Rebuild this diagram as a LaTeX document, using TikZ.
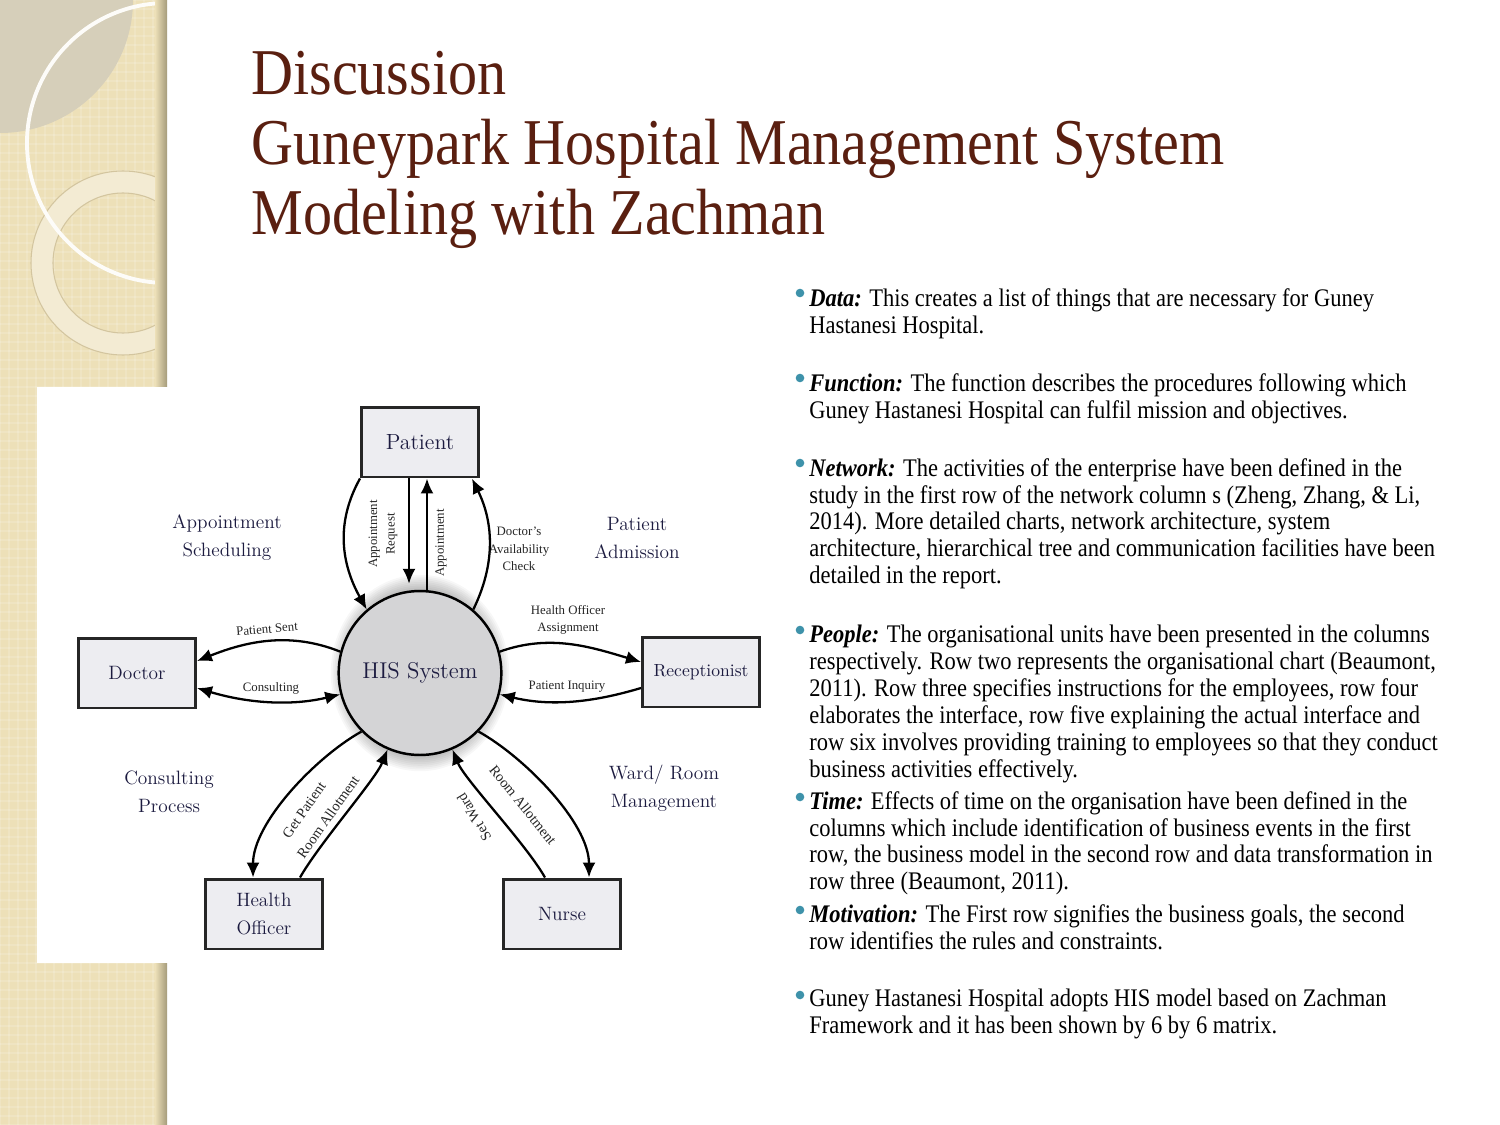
\documentclass[tikz,border=0pt]{standalone}
\usepackage{fontspec}
\usepackage{xcolor}
\usetikzlibrary{arrows.meta, shapes.geometric}
\newfontfamily\slidefont[FakeStretch=0.889]{Liberation Serif}
\newfontfamily\diagfont{Liberation Serif}
\definecolor{titlebrown}{HTML}{5A1F10}
\definecolor{bulletteal}{HTML}{3E92AA}
\definecolor{hisnavy}{HTML}{1C1B40}
\definecolor{stripbeige}{HTML}{EDE0B8}
\definecolor{stripgrey}{HTML}{D6CFBA}
\definecolor{stripshade}{HTML}{A59B7B}
\definecolor{ringcream}{HTML}{F3EBD3}
\definecolor{ringedge}{HTML}{D3C59F}
\definecolor{boxgrey}{HTML}{EDEDF1}
\definecolor{hisgrey}{HTML}{D4D4D6}

\tikzset{
  entity/.style={draw=black!85, line width=1.7pt, fill=boxgrey, minimum width=2.34cm,
    minimum height=1.4cm, inner sep=0pt, text=hisnavy, align=center,
    font=\fontsize{11}{15.5}\selectfont},
  hisblob/.style={ellipse, draw=black, line width=1.4pt, fill=hisgrey, minimum width=2.92cm,
    minimum height=3.28cm, inner sep=0pt, text=hisnavy, font=\fontsize{13}{15}\selectfont},
  flow/.style={line width=1.3pt, -{Latex[length=3mm,width=2.6mm]}},
  flowboth/.style={line width=1.3pt, {Latex[length=3mm,width=2.6mm]}-{Latex[length=3mm,width=2.6mm]}},
  flowlbl/.style={inner sep=0pt, align=center, text=black!85, font=\diagfont\fontsize{7.3}{10}\selectfont},
  slantlbl/.style={flowlbl, font=\diagfont\fontsize{8.2}{10}\selectfont},
  zonelbl/.style={inner sep=0pt, align=center, text=hisnavy, font=\fontsize{11}{16}\selectfont},
  titleline/.style={anchor=base west, inner sep=0pt, text=titlebrown,
    font=\slidefont\fontsize{37.2}{40}\selectfont},
  para/.style={anchor=north west, inner sep=0pt, align=left,
    font=\slidefont\fontsize{14.4}{15.3}\selectfont},
  bulletdot/.style={fill=bulletteal}
}

\begin{document}
\begin{tikzpicture}[x=0.02cm, y=-0.02cm]
  \useasboundingbox (0,0) rectangle (1500,1125);
  \fill[white] (0,0) rectangle (1500,1125);

  % left strip
  \fill[stripbeige] (0,0) rectangle (167,1125);
  \foreach \k in {0,...,18}
    \draw[white, opacity=0.15, line width=0.6pt] (\k*9,0) -- (\k*9,1125);
  \foreach \k in {0,...,125}
    \draw[white, opacity=0.15, line width=0.6pt] (0,\k*9) -- (160,\k*9);
  \begin{scope}
    \clip (0,0) rectangle (160,1125);
    \fill[stripgrey] (0,0) circle (133);
    \fill[ringcream, even odd rule] (123,263) circle (92) (123,263) circle (70);
    \draw[ringedge, line width=0.6pt] (123,263) circle (92) (123,263) circle (70);
    \draw[white!92!stripbeige, line width=2.2pt] (167,143) circle (140);
  \end{scope}
  \shade[left color=stripbeige, right color=stripshade] (155,0) rectangle (167,1125);

  % title
  \node[titleline] (t1) at (251,95)  {Discussion};
  \node[titleline] (t2) at (251,165) {Guneypark Hospital Management System};
  \node[titleline] (t3) at (251,235) {Modeling with Zachman};

  % diagram panel
  \fill[white] (37,387) rectangle (770,963);
  \foreach \g in {1,...,9}
    \fill[black, opacity=0.03] (420,673) ellipse ({73+1.8*\g} and {82+1.8*\g});

  \node[hisblob] (his) at (420,673) {HIS System};
  \node[entity, font=\fontsize{12.5}{15}\selectfont] (pat) at (420,442) {Patient};
  \node[entity] (doc) at (137,673) {Doctor};
  \node[entity, font=\fontsize{10}{12}\selectfont] (rec) at (701,672) {Receptionist};
  \node[entity] (ho)  at (264,914) {Health\\Officer};
  \node[entity] (nur) at (562,914) {Nurse};

  \node[zonelbl] (zsched) at (227,538) {Appointment\\Scheduling};
  \node[zonelbl] (zadm)   at (637,538) {Patient\\Admission};
  \node[zonelbl] (zcons)  at (169,792) {Consulting\\Process};
  \node[zonelbl] (zward)  at (664,788) {Ward/ Room\\Management};

  % connectors
  \draw[flow] (pat.south west) .. controls +(-25,45) and +(-25,-45) .. (his.130);
  \draw[flow] ([xshift=-0.22cm]pat.south) -- ([xshift=-0.22cm,yshift=0.12cm]his.north);
  \draw[flow] ([xshift=0.14cm]his.north) -- ([xshift=0.14cm]pat.south);
  \draw[flow] (his.50) .. controls +(22,-45) and +(22,45) .. ([xshift=-0.16cm]pat.south east);
  \draw[flow] (his.165) .. controls +(-50,-20) and +(50,-20) .. ([yshift=0.24cm]doc.east);
  \draw[flowboth] ([yshift=-0.3cm]doc.east) .. controls +(50,15) and +(-50,12) .. (his.195);
  \draw[flow] (his.15) .. controls +(50,-18) and +(-50,-15) .. ([yshift=0.2cm]rec.west);
  \draw[flow] ([yshift=-0.32cm]rec.west) .. controls +(-50,15) and +(50,12) .. (his.345);
  \draw[flow] (his.225) .. controls +(-45,25) and +(0,-55) .. ([xshift=-0.22cm]ho.north);
  \draw[flow] ([xshift=0.72cm]ho.north) .. controls +(20,-35) and +(-12,30) .. (his.247);
  \draw[flow] ([xshift=-0.34cm]nur.north) .. controls +(-20,-35) and +(12,30) .. (his.293);
  \draw[flow] (his.315) .. controls +(45,25) and +(0,-55) .. ([xshift=0.54cm]nur.north);

  \node[flowlbl, rotate=90] (lreq)  at (383,534) {Appointment\\Request};
  \node[flowlbl, rotate=90] (lapp)  at (441,543) {Appointment};
  \node[flowlbl] (lchk) at (519,549) {Doctor’s\\Availability\\Check};
  \node[flowlbl, rotate=5]  (lsent) at (267,629) {Patient Sent};
  \node[flowlbl]            (lcons) at (271,688) {Consulting};
  \node[flowlbl]            (lhoa)  at (568,620) {Health Officer\\Assignment};
  \node[flowlbl]            (linq)  at (567,687) {Patient Inquiry};
  \node[slantlbl, rotate=55] (lget)  at (304,810) {Get Patient};
  \node[slantlbl, rotate=55] (lroomh) at (328,817) {Room Allotment};
  \node[slantlbl, rotate=121] (lward) at (474,817) {Set Ward};
  \node[slantlbl, rotate=-51] (lroomn) at (523,805) {Room Allotment};

  % bullet text
  \foreach \by in {293,378,463,630,797,910,995}
    \fill[bulletdot] (800,\by) circle (4.3);
  \node[para] (pdata) at (809,288) {\textbf{\textit{Data:}} This creates a list of things that are necessary for Guney\\
    Hastanesi Hospital.};
  \node[para] (pfunc) at (809,373) {\textbf{\textit{Function:}} The function describes the procedures following which\\
    Guney Hastanesi Hospital can fulfil mission and objectives.};
  \node[para] (pnet) at (809,458) {\textbf{\textit{Network:}} The activities of the enterprise have been defined in the\\
    study in the first row of the network column s (Zheng, Zhang, \& Li,\\
    2014). More detailed charts, network architecture, system\\
    architecture, hierarchical tree and communication facilities have been\\
    detailed in the report.};
  \node[para] (ppeop) at (809,625) {\textbf{\textit{People:}} The organisational units have been presented in the columns\\
    respectively. Row two represents the organisational chart (Beaumont,\\
    2011). Row three specifies instructions for the employees, row four\\
    elaborates the interface, row five explaining the actual interface and\\
    row six involves providing training to employees so that they conduct\\
    business activities effectively.};
  \node[para] (ptime) at (809,791) {\textbf{\textit{Time:}} Effects of time on the organisation have been defined in the\\
    columns which include identification of business events in the first\\
    row, the business model in the second row and data transformation in\\
    row three (Beaumont, 2011).};
  \node[para] (pmot) at (809,904) {\textbf{\textit{Motivation:}} The First row signifies the business goals, the second\\
    row identifies the rules and constraints.};
  \node[para] (pguney) at (809,989) {Guney Hastanesi Hospital adopts HIS model based on Zachman\\
    Framework and it has been shown by 6 by 6 matrix.};
\end{tikzpicture}
\end{document}
